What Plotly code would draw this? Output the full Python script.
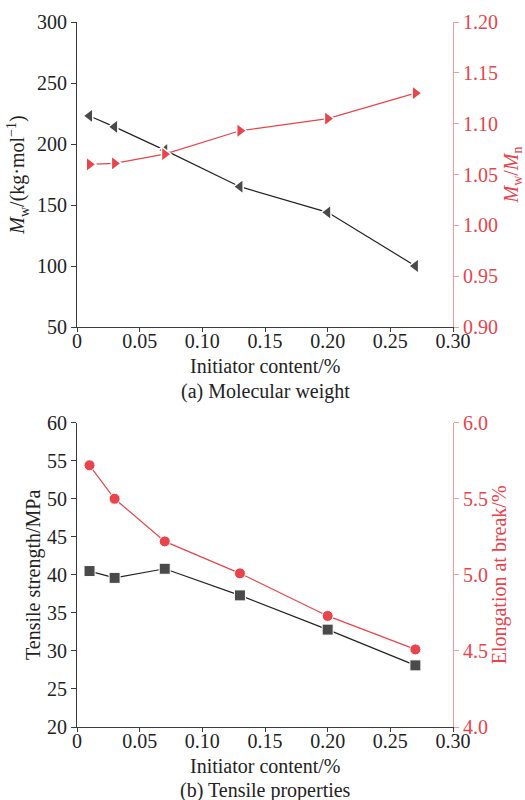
import plotly.graph_objects as go

x = [0.01, 0.03, 0.07, 0.13, 0.20, 0.27]
mw = [223, 214, 195, 165, 144, 100]
pdi = [1.060, 1.061, 1.070, 1.093, 1.105, 1.130]
tensile = [40.5, 39.6, 40.8, 37.3, 32.8, 28.1]
elong = [5.72, 5.50, 5.22, 5.01, 4.73, 4.51]

xticks = [0, 0.05, 0.10, 0.15, 0.20, 0.25, 0.30]
xticktext = ["0", "0.05", "0.10", "0.15", "0.20", "0.25", "0.30"]

BLK = "#3a3a3a"
TXT = "#222222"
RED = "#e8444b"
REDAX = "#f29a9d"
FAM = "Liberation Serif"
FS = 20

def f(color=TXT, size=FS):
    return dict(family=FAM, size=size, color=color)

fig = go.Figure()
fig.add_trace(go.Scatter(x=x, y=mw, xaxis="x", yaxis="y", mode="lines+markers",
                         line=dict(color="#222222", width=1.2),
                         marker=dict(symbol="triangle-left", size=13, color="#4a4a4a",
                                     line=dict(color="white", width=1.5))))
fig.add_trace(go.Scatter(x=x, y=pdi, xaxis="x", yaxis="y2", mode="lines+markers",
                         line=dict(color=RED, width=1.2),
                         marker=dict(symbol="triangle-right", size=13, color=RED,
                                     line=dict(color="white", width=1.5))))
fig.add_trace(go.Scatter(x=x, y=tensile, xaxis="x2", yaxis="y3", mode="lines+markers",
                         line=dict(color="#222222", width=1.2),
                         marker=dict(symbol="square", size=11, color="#4a4a4a",
                                     line=dict(color="white", width=1))))
fig.add_trace(go.Scatter(x=x, y=elong, xaxis="x2", yaxis="y4", mode="lines+markers",
                         line=dict(color=RED, width=1.2),
                         marker=dict(symbol="circle", size=11, color=RED,
                                     line=dict(color="white", width=1))))

xd = [77/525, 453/525]
top = [1-327/800, 1-22/800]
bot = [1-727/800, 1-422.7/800]

def xaxis(anchor):
    return dict(domain=xd, range=[0, 0.30], tickvals=xticks, ticktext=xticktext,
                showline=True, linecolor=BLK, linewidth=1.2, ticks="outside", ticklen=4,
                tickcolor=BLK, showgrid=False, zeroline=False, anchor=anchor,
                tickfont=f(), automargin=False, ticklabelstandoff=-8)

def yax(dom, rng, vals, title, anchor, fmt=None, right=False, overlay=None, standoff=8):
    d = dict(domain=dom, range=rng, tickvals=vals, showline=True,
             linecolor=REDAX if right else BLK, linewidth=1.2, ticks="outside", ticklen=5,
             tickcolor=REDAX if right else BLK, showgrid=False, zeroline=False, anchor=anchor,
             tickfont=f(RED if right else TXT), automargin=False,
             title=dict(text=title, font=f(RED if right else TXT), standoff=standoff))
    if fmt:
        d["tickformat"] = fmt
    if right:
        d["side"] = "right"
        d["overlaying"] = overlay
    return d

fig.update_layout(
    width=525, height=800, margin=dict(l=0, r=0, t=0, b=0, autoexpand=False),
    paper_bgcolor="white", plot_bgcolor="white", showlegend=False,
    font=f(),
    xaxis=xaxis("y"),
    xaxis2=xaxis("y3"),
    yaxis=yax(top, [50, 300], [50, 100, 150, 200, 250, 300],
              "<i>M</i><sub>w</sub>/(kg·mol<sup>−1</sup>)", "x", standoff=6),
    yaxis2=yax(top, [0.90, 1.20], [0.90, 0.95, 1.00, 1.05, 1.10, 1.15, 1.20],
               "<i>M</i><sub>w</sub>/<i>M</i><sub>n</sub>", "x", fmt=".2f", right=True, overlay="y", standoff=6),
    yaxis3=yax(bot, [20, 60], [20, 25, 30, 35, 40, 45, 50, 55, 60],
               "Tensile strength/MPa", "x2", standoff=0),
    yaxis4=yax(bot, [4.0, 6.0], [4.0, 4.5, 5.0, 5.5, 6.0],
               "Elongation at break/%", "x2", fmt=".1f", right=True, overlay="y3", standoff=4),
    annotations=[
        dict(text="Initiator content/%", x=265/525, y=1-366/800, xref="paper", yref="paper",
             showarrow=False, font=f(), xanchor="center", yanchor="middle"),
        dict(text="(a) Molecular weight", x=265/525, y=1-391/800, xref="paper", yref="paper",
             showarrow=False, font=f(), xanchor="center", yanchor="middle"),
        dict(text="Initiator content/%", x=265/525, y=1-766/800, xref="paper", yref="paper",
             showarrow=False, font=f(), xanchor="center", yanchor="middle"),
        dict(text="(b) Tensile properties", x=265/525, y=1-790/800, xref="paper", yref="paper",
             showarrow=False, font=f(), xanchor="center", yanchor="middle"),
    ],
)

fig.write_html("out.html")
